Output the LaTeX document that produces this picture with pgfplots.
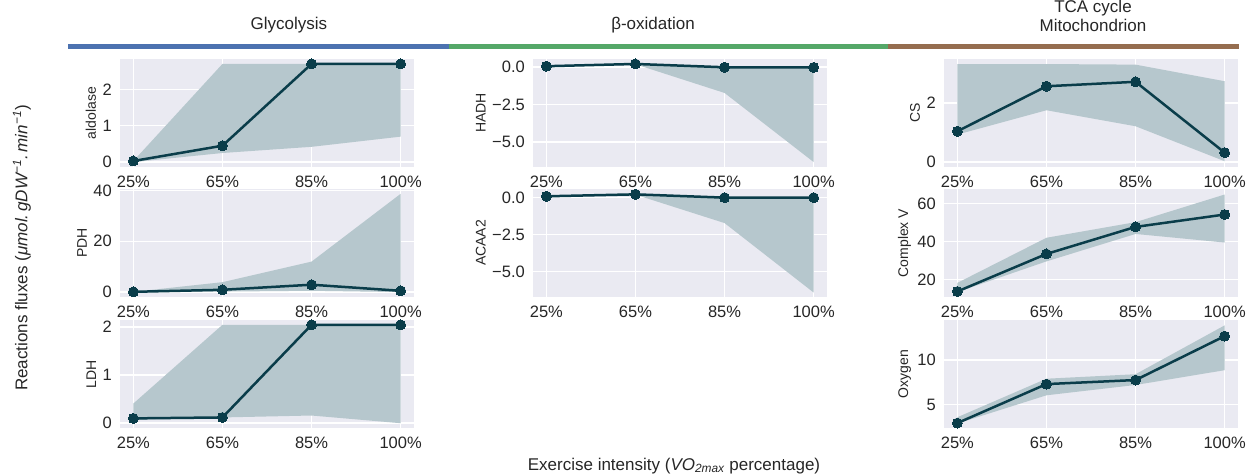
\documentclass[border=0pt]{standalone}
\usepackage{pgfplots}
\pgfplotsset{compat=1.18}
\usepackage{fontspec}
\setmainfont{Liberation Sans}
\definecolor{bgcol}{HTML}{EAEAF2}
\definecolor{bandcol}{HTML}{B6C7CD}
\definecolor{linecol}{HTML}{0A3D4A}
\definecolor{txtcol}{HTML}{262626}
\definecolor{c1}{HTML}{4C72B0}
\definecolor{c2}{HTML}{55A868}
\definecolor{c3}{HTML}{956D4F}
\newcommand\tickfont{\fontsize{16.5}{16.5}\selectfont}
\newcommand\labfont{\fontsize{14}{14}\selectfont}
\newcommand\bigfont{\fontsize{17}{19}\selectfont}
\pgfplotsset{
  panel/.style={
    scale only axis, width=294pt, height=108pt,
    anchor=north west,
    xmin=-0.15, xmax=3.15,
    xtick={0,1,2,3}, xticklabels={25\%,65\%,85\%,100\%},
    axis background/.style={fill=bgcol},
    grid=major, major grid style={white, line width=1.5pt},
    axis line style={draw=none},
    major tick length=0pt,
    tick label style={font=\tickfont, text=txtcol},
    xticklabel style={anchor=north, inner sep=0pt, yshift=-9pt},
    yticklabel style={anchor=east, inner sep=0pt, xshift=-8pt},
    ylabel style={font=\labfont, text=txtcol, yshift=3pt},
  },
  band/.style={fill=bandcol, draw=none},
  mean/.style={color=linecol, line width=2.5pt, mark=*, mark size=5pt, mark options={solid, fill=linecol, draw=linecol, line width=0pt}},
}
\begin{document}
\begin{tikzpicture}
\useasboundingbox (0pt,0pt) rectangle (1259pt,-476pt);

% headers
\draw[line width=5pt, c1] (68pt,-46.5pt) -- (449pt,-46.5pt);
\draw[line width=5pt, c2] (449pt,-46.5pt) -- (888pt,-46.5pt);
\draw[line width=5pt, c3] (888pt,-46.5pt) -- (1239pt,-46.5pt);
\node[font=\bigfont, text=txtcol] at (289pt,-25pt) {Glycolysis};
\node[font=\bigfont, text=txtcol] at (653pt,-25pt) {β-oxidation};
\node[font=\bigfont, text=txtcol, align=center] at (1093pt,-16pt) {TCA cycle\\Mitochondrion};

% global labels
\node[font=\bigfont, text=txtcol, rotate=90] at (22pt,-248pt) {Reactions fluxes ({\itshape μmol.\,gDW\textsuperscript{−1}.\,min\textsuperscript{−1}})};
\node[font=\bigfont, text=txtcol] at (674pt,-466pt) {Exercise intensity ({\itshape VO\textsubscript{2max}} percentage)};

% ---------- Column 1 ----------
\begin{axis}[panel, at={(120pt,-59pt)}, ymin=-0.135, ymax=2.835, ytick={0,1,2}, yticklabels={0,1,2}, ylabel={aldolase}]
\addplot[band] coordinates {(0,0.03)(1,2.7)(2,2.7)(3,2.7)(3,0.70)(2,0.42)(1,0.25)(0,0.0)} -- cycle;
\addplot[mean] coordinates {(0,0.03)(1,0.45)(2,2.7)(3,2.7)};
\end{axis}

\begin{axis}[panel, at={(120pt,-189pt)}, ymin=-1.94, ymax=40.6, ytick={0,20,40}, yticklabels={0,20,40}, ylabel={PDH}]
\addplot[band] coordinates {(0,0.1)(1,3.9)(2,12.0)(3,38.7)(3,0)(2,0.5)(1,0.2)(0,0)} -- cycle;
\addplot[mean] coordinates {(0,0.1)(1,0.9)(2,2.9)(3,0.5)};
\end{axis}

\begin{axis}[panel, at={(120pt,-320pt)}, ymin=-0.1, ymax=2.15, ytick={0,1,2}, yticklabels={0,1,2}, ylabel={LDH}]
\addplot[band] coordinates {(0,0.41)(1,2.05)(2,2.05)(3,2.05)(3,0.0)(2,0.16)(1,0.12)(0,0.07)} -- cycle;
\addplot[mean] coordinates {(0,0.1)(1,0.12)(2,2.05)(3,2.05)};
\end{axis}

% ---------- Column 2 ----------
\begin{axis}[panel, at={(533pt,-59pt)}, ymin=-6.66, ymax=0.53, ytick={-5,-2.5,0}, yticklabels={−5.0,−2.5,0.0}, ylabel={HADH}]
\addplot[band] coordinates {(0,0.05)(1,0.2)(2,0.0)(3,-0.03)(3,-6.33)(2,-1.73)(1,0.18)(0,0.03)} -- cycle;
\addplot[mean] coordinates {(0,0.05)(1,0.2)(2,-0.02)(3,-0.03)};
\end{axis}

\begin{axis}[panel, at={(533pt,-189pt)}, ymin=-6.7, ymax=0.56, ytick={-5,-2.5,0}, yticklabels={−5.0,−2.5,0.0}, ylabel={ACAA2}]
\addplot[band] coordinates {(0,0.08)(1,0.2)(2,0.0)(3,-0.02)(3,-6.4)(2,-1.73)(1,0.18)(0,0.06)} -- cycle;
\addplot[mean] coordinates {(0,0.07)(1,0.2)(2,-0.02)(3,-0.02)};
\end{axis}

% ---------- Column 3 ----------
\begin{axis}[panel, at={(944pt,-59pt)}, ymin=-0.166, ymax=3.48, ytick={0,2}, yticklabels={0,2}, ylabel={CS}]
\addplot[band] coordinates {(0,3.31)(1,3.31)(2,3.29)(3,2.73)(3,0.03)(2,1.21)(1,1.75)(0,0.93)} -- cycle;
\addplot[mean] coordinates {(0,1.04)(1,2.56)(2,2.71)(3,0.32)};
\end{axis}

\begin{axis}[panel, at={(944pt,-189pt)}, ymin=10.9, ymax=67.6, ytick={20,40,60}, yticklabels={20,40,60}, ylabel={Complex V}]
\addplot[band] coordinates {(0,18.3)(1,42)(2,50.2)(3,64.7)(3,39.5)(2,44)(1,29.6)(0,13.5)} -- cycle;
\addplot[mean] coordinates {(0,13.8)(1,33.5)(2,47.7)(3,54.2)};
\end{axis}

\begin{axis}[panel, at={(944pt,-320pt)}, ymin=2.4, ymax=14.45, ytick={5,10}, yticklabels={5,10}, ylabel={Oxygen}]
\addplot[band] coordinates {(0,3.6)(1,7.9)(2,8.4)(3,13.85)(3,8.85)(2,7.2)(1,6.05)(0,2.9)} -- cycle;
\addplot[mean] coordinates {(0,2.95)(1,7.3)(2,7.75)(3,12.65)};
\end{axis}

\end{tikzpicture}
\end{document}
